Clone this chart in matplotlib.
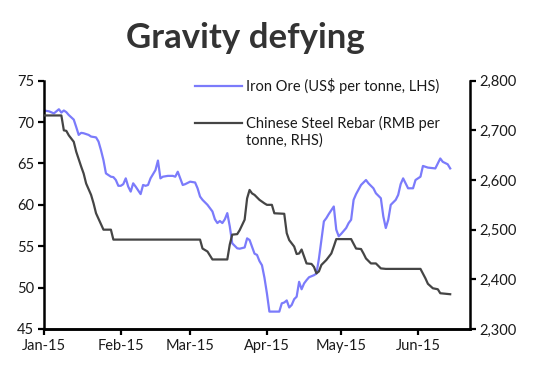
import matplotlib
matplotlib.use("Agg")
import matplotlib.pyplot as plt
import matplotlib.dates as mdates
from matplotlib.lines import Line2D
from matplotlib.ticker import FuncFormatter
import pandas as pd


iron_dates = [
    "01-01", "01-03", "01-05", "01-07", "01-08", "01-09", "01-10", "01-11",
    "01-13", "01-14", "01-15", "01-16", "01-17", "01-19", "01-20", "01-22",
    "01-23", "01-24", "01-25", "01-26", "01-28", "01-29", "01-30", "01-31",
    "02-01", "02-02", "02-03", "02-04", "02-05", "02-06", "02-07", "02-09",
    "02-10", "02-11", "02-12", "02-13", "02-15", "02-16", "02-17", "02-18",
    "02-20", "02-22", "02-23", "02-24", "02-26", "02-27",
    "03-01", "03-03", "03-04", "03-05", "03-06", "03-08", "03-10", "03-11",
    "03-12", "03-13", "03-14", "03-15", "03-16", "03-17", "03-18", "03-20",
    "03-21", "03-23", "03-24", "03-25", "03-27", "03-28", "03-29", "03-30",
    "03-31",
    "04-01", "04-02", "04-04", "04-06", "04-07", "04-08", "04-09", "04-10",
    "04-11", "04-12", "04-13", "04-14", "04-15", "04-16", "04-17", "04-18",
    "04-20", "04-21", "04-22", "04-23", "04-24", "04-25", "04-26", "04-28",
    "04-29", "04-30",
    "05-01", "05-03", "05-04", "05-05", "05-06", "05-07", "05-09", "05-11",
    "05-12", "05-13", "05-14", "05-15", "05-17", "05-18", "05-19", "05-20",
    "05-21", "05-23", "05-24", "05-25", "05-26", "05-28", "05-30", "05-31",
    "06-02", "06-03", "06-05", "06-08", "06-09", "06-10", "06-11", "06-13",
    "06-14",
]
iron_values = [
    71.4, 71.3, 71.05, 71.55, 71.15, 71.4, 71.2, 70.85,
    70.3, 69.4, 68.45, 68.7, 68.65, 68.45, 68.25, 68.15,
    67.65, 66.6, 65.4, 63.8, 63.4, 63.35, 63.0, 62.3,
    62.3, 62.5, 63.2, 62.2, 61.6, 62.6, 62.2, 61.3,
    62.4, 62.3, 62.4, 63.2, 64.2, 65.35, 63.2, 63.4,
    63.5, 63.5, 63.4, 64.0, 62.4, 62.5,
    62.8, 62.7, 62.0, 61.0, 60.6, 60.0, 59.2, 58.25,
    57.8, 58.05, 57.8, 58.25, 59.0, 57.4, 55.35, 54.75,
    54.7, 54.85, 55.95, 55.75, 54.1, 53.95, 53.2, 52.7,
    51.2,
    49.3, 47.1, 47.1, 47.1, 48.1, 48.2, 48.45, 47.6,
    47.9, 48.6, 48.9, 50.7, 49.8, 50.5, 50.9, 51.25,
    51.5, 51.7, 53.5, 55.8, 58.0, 58.4, 58.9, 59.8,
    57.0, 56.2,
    56.5, 57.2, 57.8, 58.2, 60.6, 61.3, 62.4, 63.0,
    62.6, 62.3, 62.0, 61.4, 60.8, 58.6, 57.2, 58.2,
    60.0, 60.6, 61.2, 62.5, 63.2, 62.0, 62.0, 63.0,
    63.4, 64.7, 64.5, 64.4, 65.0, 65.6, 65.2, 64.9,
    64.4,
]

rebar_dates = [
    "01-01", "01-08", "01-09", "01-10", "01-11", "01-13", "01-14", "01-16",
    "01-17", "01-18", "01-20", "01-21", "01-22", "01-24", "01-25", "01-28",
    "01-29", "03-05", "03-06", "03-08", "03-10", "03-16", "03-17", "03-18",
    "03-20", "03-21", "03-23", "03-24", "03-25", "03-26", "03-27", "03-29",
    "03-31", "04-01", "04-03", "04-04", "04-08", "04-09", "04-10", "04-12",
    "04-13", "04-14", "04-15", "04-16", "04-17", "04-19", "04-20", "04-21",
    "04-22", "04-23", "04-25", "04-27", "04-28", "04-29", "05-05", "05-07",
    "05-09", "05-10", "05-11", "05-13", "05-15", "05-17", "05-19", "06-02",
    "06-04", "06-05", "06-07", "06-09", "06-10", "06-14",
]
rebar_values = [
    2730, 2730, 2700, 2699, 2690, 2677, 2657, 2627,
    2613, 2593, 2570, 2553, 2533, 2511, 2500, 2500,
    2480, 2480, 2462, 2456, 2440, 2440, 2470, 2490,
    2491, 2499, 2520, 2563, 2580, 2573, 2570, 2560,
    2553, 2550, 2550, 2533, 2532, 2493, 2479, 2466,
    2451, 2452, 2460, 2446, 2432, 2431, 2425, 2412,
    2416, 2429, 2439, 2452, 2466, 2481, 2481, 2462,
    2461, 2452, 2442, 2432, 2432, 2422, 2421, 2421,
    2402, 2391, 2382, 2380, 2372, 2370,
]

title = "Gravity defying"
iron_label = "Iron Ore (US$ per tonne, LHS)"
rebar_label = ["Chinese Steel Rebar (RMB per", "tonne, RHS)"]

BLUE = "#7b7bfb"
GREY = "#454545"
TEXT = "#1a1a1a"


def to_dates(days):
    return pd.to_datetime(["2015-" + d for d in days])


def main():
    plt.rcParams["font.family"] = ["Lato", "DejaVu Sans"]
    plt.rcParams["font.size"] = 10.5

    fig = plt.figure(figsize=(5.33, 3.85), dpi=100)
    ax = fig.add_axes([0.0826, 0.1455, 0.7992, 0.6449])
    ax2 = ax.twinx()

    ax.plot(to_dates(iron_dates), iron_values, color=BLUE, lw=1.6)
    ax2.plot(to_dates(rebar_dates), rebar_values, color=GREY, lw=1.6)

    ax.set_xlim(pd.Timestamp("2015-01-01"), pd.Timestamp("2015-06-22"))
    ax.set_ylim(45, 75)
    ax2.set_ylim(2300, 2800)
    ax.set_yticks(range(45, 76, 5))
    ax2.set_yticks(range(2300, 2801, 100))
    ax2.yaxis.set_major_formatter(FuncFormatter(lambda v, p: f"{int(v):,}"))

    ax.xaxis.set_major_locator(mdates.MonthLocator())
    ax.xaxis.set_major_formatter(mdates.DateFormatter("%b-%y"))

    for a in (ax, ax2):
        a.spines["top"].set_visible(False)
        for s in ("left", "right", "bottom"):
            a.spines[s].set_linewidth(1.8)
            a.spines[s].set_color("black")
        a.tick_params(direction="out", length=4, width=1.6, colors="black",
                      labelcolor=TEXT, labelsize=10.5, pad=3)
    ax.spines["right"].set_visible(False)
    ax2.spines["left"].set_visible(False)

    # legend drawn by hand so the grey handle sits on the first text line
    ax.add_line(Line2D([0.354, 0.465], [0.979, 0.979], transform=ax.transAxes,
                       color=BLUE, lw=1.6, clip_on=False))
    ax.text(0.474, 0.979, iron_label, transform=ax.transAxes, va="center",
            ha="left", color=TEXT, fontsize=10.5)
    ax.add_line(Line2D([0.354, 0.465], [0.830, 0.830], transform=ax.transAxes,
                       color=GREY, lw=1.6, clip_on=False))
    ax.text(0.474, 0.826, rebar_label[0], transform=ax.transAxes, va="center",
            ha="left", color=TEXT, fontsize=10.5)
    ax.text(0.474, 0.757, rebar_label[1], transform=ax.transAxes, va="center",
            ha="left", color=TEXT, fontsize=10.5)

    fig.text(245 / 533, 1 - 38 / 385, title, ha="center", va="center",
             fontsize=25, fontweight="bold", color="#333333")

    fig.savefig("out.png", dpi=100)


if __name__ == "__main__":
    main()
